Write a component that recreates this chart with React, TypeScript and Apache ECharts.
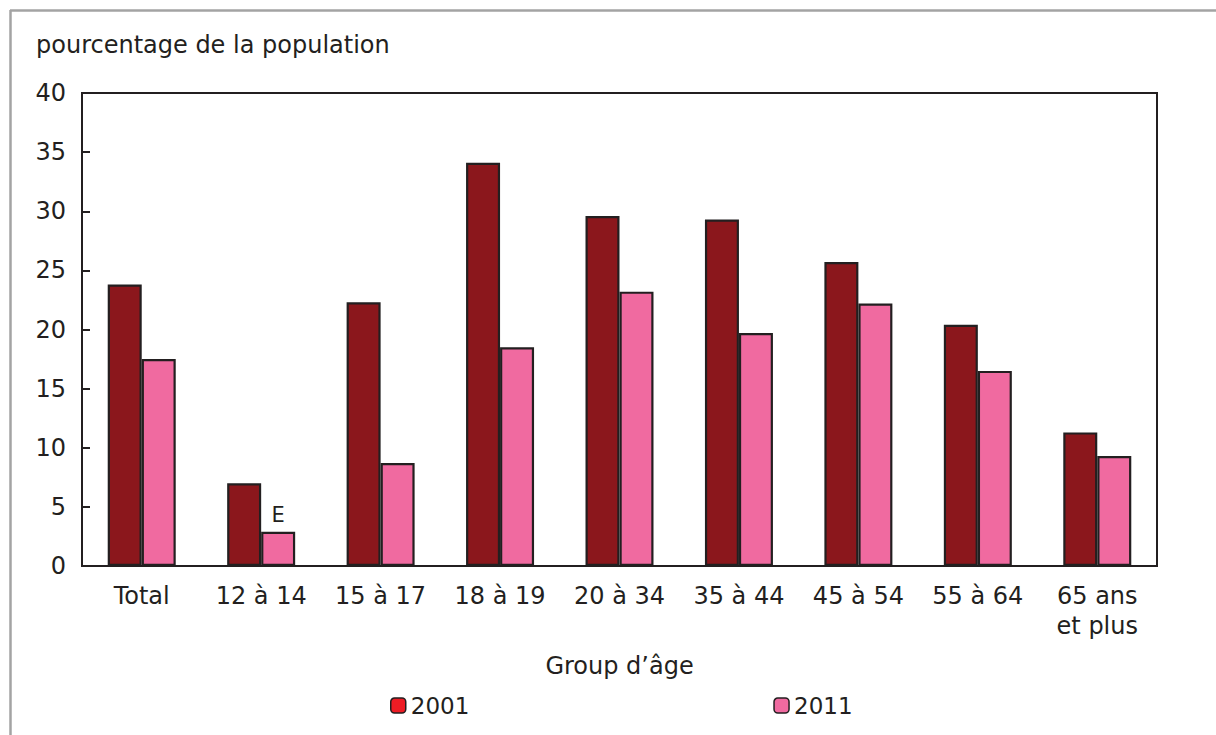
import React, { useEffect, useRef } from "react";
import * as echarts from "echarts";

const categories = [
  "Total",
  "12 à 14",
  "15 à 17",
  "18 à 19",
  "20 à 34",
  "35 à 44",
  "45 à 54",
  "55 à 64",
  "65 ans\net plus",
];
const values2001 = [23.8, 7.0, 22.3, 34.1, 29.6, 29.3, 25.7, 20.4, 11.3];
const values2011 = [17.5, 2.9, 8.7, 18.5, 23.2, 19.7, 22.2, 16.5, 9.3];
// Estimates flagged with "E" (index into categories)
const flagged2011 = [1];
const yTicks = [0, 5, 10, 15, 20, 25, 30, 35, 40];

const FONT = "'DejaVu Sans', Verdana, sans-serif";
const INK = "#231f20";

export default function App() {
  const ref = useRef<HTMLDivElement>(null);

  useEffect(() => {
    if (!ref.current) return;
    const chart = echarts.init(ref.current, undefined, { renderer: "svg" });
    const barBorder = { borderColor: INK, borderWidth: 2.2 };
    chart.setOption({
      animation: false,
      backgroundColor: "#ffffff",
      textStyle: { fontFamily: FONT, color: INK },
      graphic: [
        {
          type: "line",
          shape: { x1: 10, y1: 10.5, x2: 1216, y2: 10.5 },
          style: { stroke: "#a3a3a3", lineWidth: 2.5 },
        },
        {
          type: "line",
          shape: { x1: 10.5, y1: 10, x2: 10.5, y2: 735 },
          style: { stroke: "#a3a3a3", lineWidth: 2.5 },
        },
        {
          type: "text",
          left: 36,
          top: 33,
          style: {
            text: "pourcentage de la population",
            font: `24px ${FONT}`,
            fill: INK,
          },
        },
      ],
      grid: {
        left: 82,
        right: 59,
        top: 93,
        bottom: 169,
        show: true,
        borderColor: INK,
        borderWidth: 2,
        backgroundColor: "transparent",
      },
      legend: {
        left: 390,
        top: 694,
        padding: 0,
        itemWidth: 15,
        itemHeight: 15,
        itemGap: 304,
        textStyle: { fontFamily: FONT, fontSize: 23, color: INK },
        data: [
          { name: "2001", itemStyle: { color: "#ed1c24", borderColor: INK, borderWidth: 1.5 } },
          { name: "2011", itemStyle: { color: "#f06aa0", borderColor: INK, borderWidth: 1.5 } },
        ],
      },
      xAxis: {
        type: "category",
        data: categories,
        name: "Group d’âge",
        nameLocation: "middle",
        nameGap: 88,
        nameTextStyle: { fontFamily: FONT, fontSize: 24, color: INK },
        axisLine: { lineStyle: { color: INK, width: 2 } },
        axisTick: { show: false },
        axisLabel: {
          fontFamily: FONT,
          fontSize: 24,
          color: INK,
          margin: 15,
          lineHeight: 30,
          interval: 0,
          align: "center",
        },
      },
      yAxis: {
        type: "value",
        min: yTicks[0],
        max: yTicks[yTicks.length - 1],
        interval: 5,
        axisLine: { show: true, lineStyle: { color: INK, width: 2 } },
        axisTick: { show: true, inside: true, length: 8, lineStyle: { color: INK, width: 2 } },
        splitLine: { show: false },
        axisLabel: { fontFamily: FONT, fontSize: 24, color: INK, margin: 16 },
      },
      series: [
        {
          name: "2001",
          type: "bar",
          data: values2001,
          barWidth: 34,
          barGap: "0%",
          itemStyle: { color: "#8b171c", ...barBorder },
        },
        {
          name: "2011",
          type: "bar",
          data: values2011.map((v, i) =>
            flagged2011.includes(i)
              ? {
                  value: v,
                  label: {
                    show: true,
                    position: "top",
                    formatter: "E",
                    fontFamily: FONT,
                    fontSize: 21,
                    color: INK,
                    distance: 6,
                  },
                }
              : v
          ),
          barWidth: 34,
          itemStyle: { color: "#f06aa0", ...barBorder },
        },
      ],
    });
    return () => chart.dispose();
  }, []);

  return (
    <div
      ref={ref}
      style={{ position: "fixed", left: 0, top: 0, width: 1216, height: 735 }}
    />
  );
}
